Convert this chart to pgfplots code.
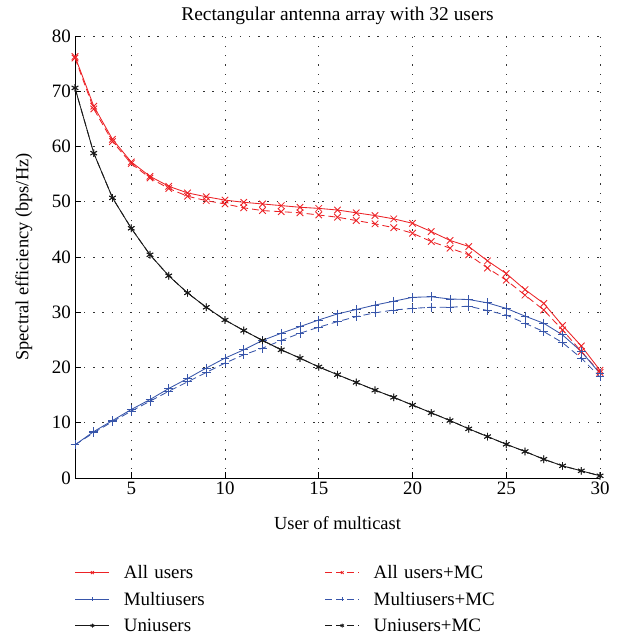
\documentclass[border=0pt]{standalone}
\usepackage{pgfplots}
\pgfplotsset{compat=1.18}
\usepackage{fontspec}
\setmainfont{Liberation Serif}
\definecolor{cred}{RGB}{236,34,38}
\definecolor{cblue}{RGB}{55,85,170}
\definecolor{cblack}{RGB}{25,25,25}
\begin{document}
\begin{tikzpicture}
\begin{axis}[
  name=ax,
  scale only axis,
  width=525bp, height=442bp,
  xmin=2, xmax=30, ymin=0, ymax=80,
  xtick={5,10,15,20,25,30},
  ytick={0,10,20,30,40,50,60,70,80},
  axis x line*=bottom, axis y line*=left,
  axis line style={line width=0.9pt, -},
  tick align=inside,
  major tick length=6bp,
  tick style={black, line width=0.7pt},
  grid=major,
  grid style={black!80, line width=0.75pt, dash pattern=on 1.2pt off 8pt},
  font=\fontsize{19}{22}\selectfont,
  /pgf/number format/assume math mode=true,
  xticklabel style={inner sep=4bp},
  yticklabel style={inner sep=4bp},
  title={Rectangular antenna array with 32 users},
  title style={font=\fontsize{19.5}{22}\selectfont, at={(axis description cs:0.5,1)}, anchor=center, yshift=14bp},
  xlabel={User of multicast},
  ylabel={Spectral efficiency (bps/Hz)},
  xlabel style={font=\fontsize{18.5}{21}\selectfont, at={(axis description cs:0.5,0)}, anchor=center, yshift=-45bp},
  ylabel style={font=\fontsize{18.5}{21}\selectfont, at={(axis description cs:0,0.5)}, anchor=center, yshift=51bp},
  every axis plot/.append style={line width=0.85pt},
  mark options={solid, line width=0.85pt},
  legend columns=2,
  legend cell align=left,
  legend style={draw=none, fill=none, at={(0,-0.193)}, anchor=north west,
    font=\fontsize{19}{22}\selectfont, inner sep=0pt, outer sep=0pt,
    nodes={text width=199bp, align=left, inner sep=2bp},
    /tikz/every odd column/.append style={column sep=12bp},
    row sep=8bp},
  legend image code/.code={\draw[mark repeat=2,mark phase=2,mark size=2pt] plot coordinates {(0bp,0bp)(17bp,0bp)(34bp,0bp)};},
]
% All users
\addplot[cred, mark=x, mark size=4.6pt] coordinates {
(2,76.3)(3,67.3)(4,61.3)(5,57.2)(6,54.6)(7,52.8)(8,51.6)(9,50.9)(10,50.3)(11,49.9)(12,49.6)(13,49.3)(14,49.0)(15,48.8)(16,48.5)(17,48.0)(18,47.5)(19,46.9)(20,46.1)(21,44.6)(22,43.0)(23,41.9)(24,39.3)(25,37.0)(26,34.1)(27,31.6)(28,27.6)(29,23.9)(30,19.5)};
\addlegendentry{All users}
\addplot[cred, dash pattern=on 7pt off 4pt, mark=x, mark size=4.6pt] coordinates {
(2,76.0)(3,66.8)(4,60.9)(5,56.9)(6,54.3)(7,52.4)(8,51.0)(9,50.2)(10,49.6)(11,48.9)(12,48.4)(13,48.2)(14,48.0)(15,47.6)(16,47.2)(17,46.6)(18,46.0)(19,45.3)(20,44.3)(21,42.8)(22,41.6)(23,40.4)(24,38.0)(25,35.8)(26,33.1)(27,30.4)(28,26.8)(29,22.9)(30,19.1)};
\addlegendentry{All users+MC}
% Multiusers
\addplot[cblue, mark=+, mark size=4.4pt] coordinates {
(2,6.0)(3,8.4)(4,10.4)(5,12.4)(6,14.2)(7,16.2)(8,18.0)(9,19.9)(10,21.7)(11,23.2)(12,24.9)(13,26.2)(14,27.4)(15,28.6)(16,29.7)(17,30.5)(18,31.3)(19,32.0)(20,32.7)(21,32.8)(22,32.4)(23,32.3)(24,31.7)(25,30.7)(26,29.3)(27,28.0)(28,25.9)(29,22.9)(30,18.9)};
\addlegendentry{Multiusers}
\addplot[cblue, dash pattern=on 7pt off 4pt, mark=+, mark size=4.4pt] coordinates {
(2,6.0)(3,8.2)(4,10.2)(5,12.1)(6,13.9)(7,15.7)(8,17.4)(9,19.1)(10,20.8)(11,22.3)(12,23.5)(13,24.9)(14,26.2)(15,27.3)(16,28.3)(17,29.2)(18,29.9)(19,30.4)(20,30.7)(21,30.9)(22,30.9)(23,31.1)(24,30.3)(25,29.5)(26,28.0)(27,26.5)(28,24.5)(29,21.7)(30,18.3)};
\addlegendentry{Multiusers+MC}
% Uniusers
\addplot[cblack, mark=asterisk, mark size=3.8pt] coordinates {
(2,70.6)(3,58.8)(4,50.7)(5,45.2)(6,40.4)(7,36.6)(8,33.5)(9,30.9)(10,28.6)(11,26.7)(12,24.9)(13,23.2)(14,21.7)(15,20.1)(16,18.7)(17,17.3)(18,15.9)(19,14.6)(20,13.2)(21,11.8)(22,10.4)(23,8.9)(24,7.5)(25,6.1)(26,4.8)(27,3.4)(28,2.2)(29,1.3)(30,0.4)};
\addlegendentry{Uniusers}
\addplot[cblack, dash pattern=on 7pt off 4pt, mark=asterisk, mark size=3.8pt] coordinates {
(2,70.6)(3,58.8)(4,50.7)(5,45.2)(6,40.4)(7,36.6)(8,33.5)(9,30.9)(10,28.6)(11,26.7)(12,24.9)(13,23.2)(14,21.7)(15,20.1)(16,18.7)(17,17.3)(18,15.9)(19,14.6)(20,13.2)(21,11.8)(22,10.4)(23,8.9)(24,7.5)(25,6.1)(26,4.8)(27,3.4)(28,2.2)(29,1.3)(30,0.4)};
\addlegendentry{Uniusers+MC}
\end{axis}
\pgfresetboundingbox
\path[use as bounding box] ([xshift=-75bp,yshift=-161bp]ax.south west) rectangle ([xshift=23bp,yshift=36bp]ax.north east);
\end{tikzpicture}
\end{document}
